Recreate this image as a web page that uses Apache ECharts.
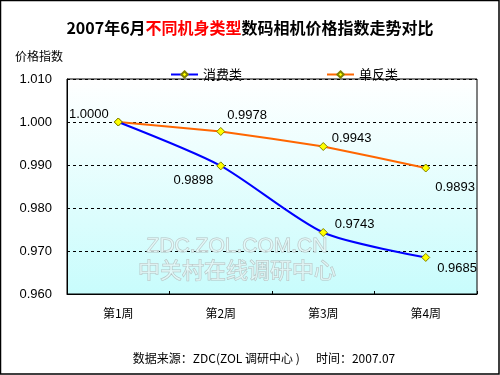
<!DOCTYPE html>
<html>
<head>
<meta charset="utf-8">
<script src="https://cdn.jsdelivr.net/npm/echarts@6/dist/echarts.min.js"></script>
<style>html,body{margin:0;padding:0;background:#fff;overflow:hidden;}#c{width:500px;height:375px;}</style>
</head>
<body>
<div id="c"></div>
<script>
var categories = ['第1周', '第2周', '第3周', '第4周'];
var consumerValues = [1.0000, 0.9898, 0.9743, 0.9685];
var dslrValues = [1.0000, 0.9978, 0.9943, 0.9893];
var seriesNames = ['消费类', '单反类'];
var yTicks = [0.960, 0.970, 0.980, 0.990, 1.000, 1.010];

var FONT = 'Liberation Sans, Arial, Noto Sans CJK SC, sans-serif';
var CJK = 'Noto Sans CJK SC, sans-serif';
var chart = echarts.init(document.getElementById('c'), null, {renderer: 'canvas'});

// label placement per point (layout only)
var consumerLabelPos = [
  {position: 'left', offset: [0, -8]},
  {position: 'left', offset: [2, 15]},
  {position: 'right', offset: [2, -8]},
  {position: 'right', offset: [2, 11]}
];
var dslrLabelPos = [
  null,
  {position: 'right', offset: [-3, -16]},
  {position: 'right', offset: [-1, -8]},
  {position: 'right', offset: [0, 19]}
];
function buildData(values, pos) {
  return values.map(function (v, i) {
    var p = pos[i];
    return {
      value: v,
      label: p ? {show: true, position: p.position, offset: p.offset} : {show: false}
    };
  });
}
var labelStyle = {
  show: true,
  color: '#000',
  fontSize: 13,
  fontFamily: FONT,
  formatter: function (p) { return p.value.toFixed(4); }
};

chart.setOption({
  animation: false,
  backgroundColor: '#fff',
  title: {
    text: '{a|2007年6月}{r|不同机身类型}{a|数码相机价格指数走势对比}',
    left: 'center',
    top: 15,
    textStyle: {
      rich: {
        a: {fontSize: 16, fontWeight: 'bold', color: '#000', fontFamily: CJK},
        r: {fontSize: 16, fontWeight: 'bold', color: '#ff0000', fontFamily: CJK}
      }
    }
  },
  legend: {
    data: seriesNames,
    left: 165,
    top: 63,
    itemWidth: 27,
    itemHeight: 8,
    itemGap: 84,
    textStyle: {fontSize: 13, color: '#000', fontFamily: CJK}
  },
  grid: {
    left: 67,
    top: 79,
    width: 410,
    height: 215,
    show: true,
    borderColor: '#000',
    borderWidth: 1,
    backgroundColor: new echarts.graphic.LinearGradient(0, 0, 0, 1, [
      {offset: 0, color: '#ffffff'},
      {offset: 1, color: '#c8fcfc'}
    ])
  },
  xAxis: {
    type: 'category',
    data: categories,
    boundaryGap: true,
    axisLine: {show: true, lineStyle: {color: '#000', width: 1}},
    axisTick: {show: true, inside: true, length: 3, lineStyle: {color: '#000'}},
    axisLabel: {color: '#000', fontSize: 12, margin: 13, fontFamily: CJK},
    splitLine: {show: false}
  },
  yAxis: {
    type: 'value',
    min: yTicks[0],
    max: yTicks[yTicks.length - 1],
    interval: 0.01,
    name: '价格指数',
    nameLocation: 'end',
    nameGap: 17,
    nameTextStyle: {color: '#000', fontSize: 12, align: 'right', padding: [0, 4, 0, 0], fontFamily: CJK},
    axisLine: {show: true, lineStyle: {color: '#000'}},
    axisTick: {show: false},
    axisLabel: {color: '#000', fontSize: 13, margin: 15, fontFamily: FONT,
      formatter: function (v) { return v.toFixed(3); }},
    splitLine: {show: true, lineStyle: {color: '#000', type: [3, 3], width: 1}}
  },
  series: [
    {
      name: seriesNames[0],
      type: 'line',
      smooth: 0.25,
      data: buildData(consumerValues, consumerLabelPos),
      symbol: 'diamond',
      symbolSize: 8,
      color: '#0000ff',
      lineStyle: {color: '#0000ff', width: 2},
      itemStyle: {color: '#ffff00', borderColor: '#808000', borderWidth: 1},
      label: labelStyle,
      z: 3
    },
    {
      name: seriesNames[1],
      type: 'line',
      smooth: 0.1,
      data: buildData(dslrValues, dslrLabelPos),
      symbol: 'diamond',
      symbolSize: 8,
      color: '#ff6600',
      lineStyle: {color: '#ff6600', width: 2},
      itemStyle: {color: '#ffff00', borderColor: '#808000', borderWidth: 1},
      label: labelStyle,
      z: 2
    }
  ],
  graphic: [
    {
      type: 'rect', z: 100, silent: true,
      shape: {x: 0.5, y: 0.5, width: 498.5, height: 373.5},
      style: {fill: 'none', stroke: '#000', lineWidth: 1.5}
    },
    {
      type: 'text', x: 237, y: 246, z: 1, silent: true,
      style: {text: 'ZDC.ZOL.COM.CN', fontSize: 21, fontFamily: FONT, align: 'center', verticalAlign: 'middle',
        fill: 'rgba(240,255,255,0.6)', stroke: '#b4c2c2', lineWidth: 1}
    },
    {
      type: 'text', x: 237, y: 270, z: 1, silent: true,
      style: {text: '中关村在线调研中心', fontSize: 22, fontFamily: CJK, align: 'center', verticalAlign: 'middle',
        fill: 'rgba(240,255,255,0.6)', stroke: '#b4c2c2', lineWidth: 1}
    },
    {
      type: 'text', x: 264, y: 358, silent: true,
      style: {text: '数据来源：ZDC(ZOL 调研中心 )      时间：2007.07', fontSize: 12, fontFamily: CJK,
        align: 'center', verticalAlign: 'middle', fill: '#000'}
    }
  ]
});
</script>
</body>
</html>
